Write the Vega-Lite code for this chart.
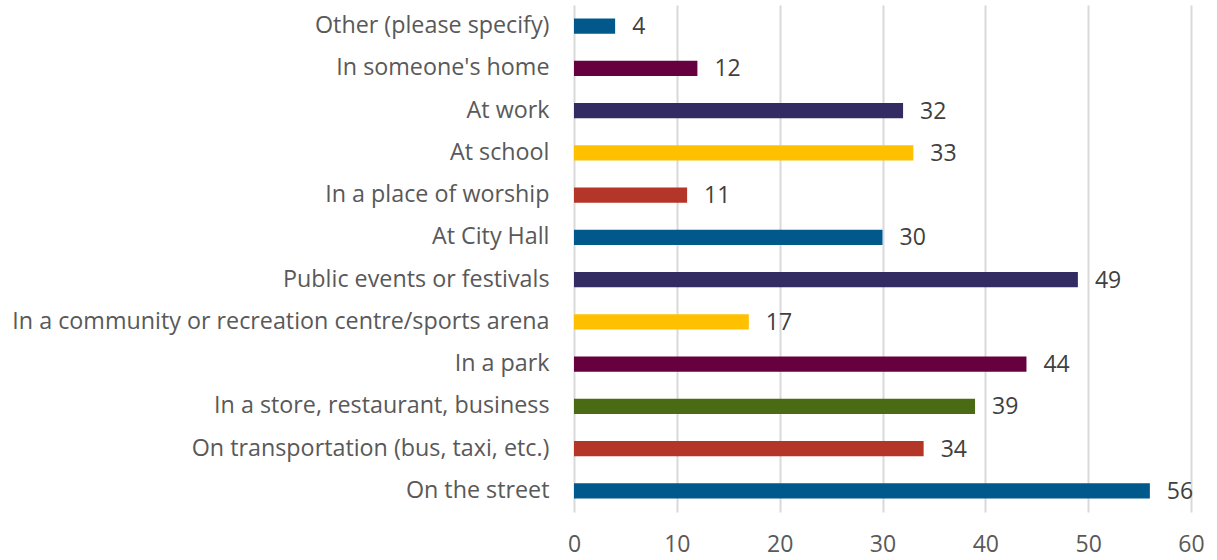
{
  "$schema": "https://vega.github.io/schema/vega-lite/v6.json",
  "autosize": "none",
  "width": 617,
  "height": 507,
  "padding": {"left": 574, "top": 5, "right": 26, "bottom": 48},
  "background": "white",
  "config": {"view": {"stroke": null}, "font": "Open Sans"},
  "data": {"values": [
    {"place": "Other (please specify)", "count": 4},
    {"place": "In someone's home", "count": 12},
    {"place": "At work", "count": 32},
    {"place": "At school", "count": 33},
    {"place": "In a place of worship", "count": 11},
    {"place": "At City Hall", "count": 30},
    {"place": "Public events or festivals", "count": 49},
    {"place": "In a community or recreation centre/sports arena", "count": 17},
    {"place": "In a park", "count": 44},
    {"place": "In a store, restaurant, business", "count": 39},
    {"place": "On transportation (bus, taxi, etc.)", "count": 34},
    {"place": "On the street", "count": 56}
  ]},
  "encoding": {
    "y": {"field": "place", "type": "nominal", "sort": null,
      "scale": {"paddingInner": 0.64, "paddingOuter": 0.32},
      "axis": {"title": null, "domain": false, "ticks": false, "labelFontSize": 23.3, "labelColor": "#595959", "labelPadding": 25, "labelLimit": 600, "labelFont": "Open Sans"}},
    "x": {"field": "count", "type": "quantitative",
      "scale": {"domain": [0, 60], "nice": false},
      "axis": {"title": null, "domain": false, "ticks": false, "values": [0,10,20,30,40,50,60], "labelOverlap": false, "labelFlush": false, "labelFontSize": 23, "labelColor": "#595959", "labelPadding": 21, "gridColor": "#D9D9D9", "gridWidth": 2, "labelFont": "Open Sans"}}
  },
  "layer": [
    {"mark": {"type": "bar"},
     "encoding": {"color": {"field": "place", "type": "nominal", "legend": null,
       "scale": {"domain": ["Other (please specify)", "In someone's home", "At work", "At school", "In a place of worship", "At City Hall", "Public events or festivals", "In a community or recreation centre/sports arena", "In a park", "In a store, restaurant, business", "On transportation (bus, taxi, etc.)", "On the street"],
         "range": ["#00588B", "#66003F", "#332C63", "#FFC000", "#B43628", "#00588B", "#332C63", "#FFC000", "#66003F", "#4A6A14", "#B43628", "#00588B"]}}}},
    {"mark": {"type": "text", "align": "left", "baseline": "middle", "dx": 17, "dy": 1, "fontSize": 23, "color": "#404040", "font": "Open Sans"},
     "encoding": {"text": {"field": "count", "type": "quantitative"}}}
  ]
}
